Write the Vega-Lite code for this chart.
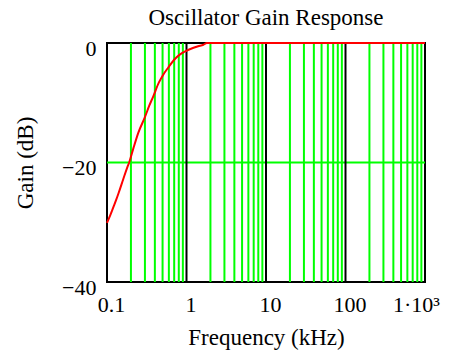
{
  "$schema": "https://vega.github.io/schema/vega-lite/v6.json",
  "width": 318,
  "height": 239,
  "autosize": "none",
  "padding": {"left": 107, "top": 43, "right": 30, "bottom": 76},
  "background": "white",
  "title": {
    "text": "Oscillator Gain Response",
    "font": "Liberation Serif",
    "fontSize": 23,
    "fontWeight": "normal",
    "color": "black",
    "anchor": "middle",
    "offset": 7
  },
  "config": {
    "view": {"stroke": "black", "strokeWidth": 2},
    "axis": {
      "grid": false,
      "domain": false,
      "ticks": false,
      "tickSize": 0,
      "labelFont": "Liberation Serif",
      "labelFontSize": 22,
      "labelColor": "black",
      "labelFlush": false,
      "labelOverlap": false,
      "titleFont": "Liberation Serif",
      "titleFontSize": 23,
      "titleFontWeight": "normal",
      "titleColor": "black"
    }
  },
  "datasets": {
    "minorGrid": [
      {"f": 0.2}, {"f": 0.3}, {"f": 0.4}, {"f": 0.5}, {"f": 0.6}, {"f": 0.7}, {"f": 0.8}, {"f": 0.9},
      {"f": 2}, {"f": 3}, {"f": 4}, {"f": 5}, {"f": 6}, {"f": 7}, {"f": 8}, {"f": 9},
      {"f": 20}, {"f": 30}, {"f": 40}, {"f": 50}, {"f": 60}, {"f": 70}, {"f": 80}, {"f": 90},
      {"f": 200}, {"f": 300}, {"f": 400}, {"f": 500}, {"f": 600}, {"f": 700}, {"f": 800}, {"f": 900}
    ],
    "decadeGrid": [{"f": 1}, {"f": 10}, {"f": 100}],
    "gainGrid": [{"g": -20}],
    "response": [
      {"f": 0.1, "g": -30.1},
      {"f": 0.11, "g": -28.8},
      {"f": 0.12, "g": -27.5},
      {"f": 0.13, "g": -26.3},
      {"f": 0.14, "g": -25.1},
      {"f": 0.16, "g": -22.8},
      {"f": 0.18, "g": -20.8},
      {"f": 0.19, "g": -20.0},
      {"f": 0.215, "g": -17.6},
      {"f": 0.248, "g": -15.0},
      {"f": 0.3, "g": -12.4},
      {"f": 0.34, "g": -10.5},
      {"f": 0.38, "g": -9.0},
      {"f": 0.45, "g": -6.6},
      {"f": 0.51, "g": -5.3},
      {"f": 0.59, "g": -4.1},
      {"f": 0.7, "g": -2.8},
      {"f": 0.83, "g": -1.9},
      {"f": 1.0, "g": -1.3},
      {"f": 1.1, "g": -1.05},
      {"f": 1.4, "g": -0.55},
      {"f": 1.63, "g": -0.3},
      {"f": 1.8, "g": 0},
      {"f": 10, "g": 0},
      {"f": 100, "g": 0},
      {"f": 1000, "g": 0}
    ]
  },
  "layer": [
    {
      "data": {"name": "minorGrid"},
      "mark": {"type": "rule", "color": "#00ff00", "strokeWidth": 2},
      "encoding": {
        "x": {
          "field": "f",
          "type": "quantitative",
          "scale": {"type": "log", "domain": [0.1, 1000]},
          "axis": {
            "title": "Frequency (kHz)",
            "titleColor": "black",
            "values": [0.1, 1, 10, 100, 1000],
            "labelExpr": "datum.value >= 1000 ? '1·10³' : (datum.value < 1 ? '0.1' : format(datum.value, 'd'))",
            "labelPadding": 12,
            "labelOffset": {"condition": {"test": "datum.value >= 1000", "value": -9}, "value": 4},
            "titlePadding": 11
          }
        }
      }
    },
    {
      "data": {"name": "gainGrid"},
      "mark": {"type": "rule", "color": "#00ff00", "strokeWidth": 2},
      "encoding": {
        "y": {
          "field": "g",
          "type": "quantitative",
          "scale": {"domain": [-40, 0]},
          "axis": {
            "title": "Gain (dB)",
            "titleColor": "black",
            "values": [-40, -20, 0],
            "format": "d",
            "labelPadding": 11,
            "labelOffset": 5,
            "titlePadding": 24
          }
        }
      }
    },
    {
      "data": {"name": "decadeGrid"},
      "mark": {"type": "rule", "color": "black", "strokeWidth": 2},
      "encoding": {
        "x": {
          "field": "f",
          "type": "quantitative",
          "scale": {"type": "log", "domain": [0.1, 1000]},
          "axis": {
            "title": "Frequency (kHz)",
            "titleColor": "black",
            "values": [0.1, 1, 10, 100, 1000],
            "labelExpr": "datum.value >= 1000 ? '1·10³' : (datum.value < 1 ? '0.1' : format(datum.value, 'd'))",
            "labelPadding": 12,
            "labelOffset": {"condition": {"test": "datum.value >= 1000", "value": -9}, "value": 4},
            "titlePadding": 11
          }
        }
      }
    },
    {
      "data": {"name": "response"},
      "mark": {"type": "line", "color": "#ff0000", "strokeWidth": 2, "interpolate": "monotone", "clip": false},
      "encoding": {
        "x": {
          "field": "f",
          "type": "quantitative",
          "scale": {"type": "log", "domain": [0.1, 1000]},
          "axis": {
            "title": "Frequency (kHz)",
            "titleColor": "black",
            "values": [0.1, 1, 10, 100, 1000],
            "labelExpr": "datum.value >= 1000 ? '1·10³' : (datum.value < 1 ? '0.1' : format(datum.value, 'd'))",
            "labelPadding": 12,
            "labelOffset": {"condition": {"test": "datum.value >= 1000", "value": -9}, "value": 4},
            "titlePadding": 11
          }
        },
        "y": {
          "field": "g",
          "type": "quantitative",
          "scale": {"domain": [-40, 0]},
          "axis": {
            "title": "Gain (dB)",
            "titleColor": "black",
            "values": [-40, -20, 0],
            "format": "d",
            "labelPadding": 11,
            "labelOffset": 5,
            "titlePadding": 24
          }
        }
      }
    }
  ]
}
